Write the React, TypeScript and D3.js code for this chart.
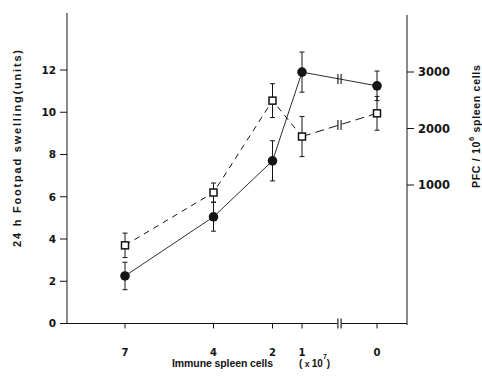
import * as d3 from 'd3';

// x categories: number of immune spleen cells (x10^7); axis is broken before 0
const cells = [7, 4, 2, 1, 0];
// filled circles, solid line
const swelling = [2.25, 5.05, 7.7, 11.9, 11.25];
const swellingErr = [0.65, 0.68, 0.95, 0.95, 0.7];
// open squares, dashed line (read in left-axis units)
const pfc = [3.7, 6.2, 10.55, 8.85, 9.95];
const pfcErr = [0.58, 0.45, 0.8, 0.95, 0.8];

const leftTicks = [0, 2, 4, 6, 8, 10, 12];
const rightTicks = [1000, 2000, 3000];

const W = 482;
const H = 384;
const ink = '#141414';
const numFont = '"DejaVu Sans", sans-serif';
const txtFont = '"Liberation Sans", Arial, sans-serif';

// piecewise scale so the 0 category sits past the axis break
const x = d3.scaleLinear().domain([7, 1, 0]).range([125, 302, 377]);
const y = d3.scaleLinear().domain([0, 12]).range([323.5, 70]);
const yR = d3.scaleLinear().domain([1000, 3000]).range([185, 72]);

const axisLeft = 67;
const axisRight = 407;
const axisBottom = y(0);
const breakAt = x(0.5);

type Pt = { c: number; v: number; e: number };

const toPts = (vals: number[], errs: number[]): Pt[] =>
  cells.map((c, i) => ({ c, v: vals[i], e: errs[i] }));

const line = d3.line<Pt>().x(d => x(d.c)).y(d => y(d.v));

// small "||" break mark on a segment
const BreakMark = ({ cx, cy }: { cx: number; cy: number }) => (
  <g stroke={ink} strokeWidth={1.1}>
    <line x1={cx - 1.6} x2={cx - 1.6} y1={cy - 5} y2={cy + 5} />
    <line x1={cx + 1.6} x2={cx + 1.6} y1={cy - 5} y2={cy + 5} />
  </g>
);

const ErrBars = ({ pts }: { pts: Pt[] }) => (
  <g stroke={ink} strokeWidth={1}>
    {pts.map(d => {
      const px = x(d.c);
      const top = y(d.v + d.e);
      const bot = y(d.v - d.e);
      return (
        <g key={d.c}>
          <line x1={px} x2={px} y1={top} y2={bot} />
          <line x1={px - 2.5} x2={px + 2.5} y1={top} y2={top} />
          <line x1={px - 2.5} x2={px + 2.5} y1={bot} y2={bot} />
        </g>
      );
    })}
  </g>
);

export default function App() {
  const filled = toPts(swelling, swellingErr);
  const open = toPts(pfc, pfcErr);

  // where each series crosses the axis break
  const midY = (s: Pt[]) => y((s[3].v + s[4].v) / 2);

  return (
    <svg width={W} height={H} style={{ position: 'absolute', left: 0, top: 0, background: '#fff' }}>
      {/* axes */}
      <g stroke={ink} strokeWidth={1} fill="none">
        <line x1={axisLeft} x2={axisLeft} y1={13} y2={axisBottom} />
        <line x1={axisRight} x2={axisRight} y1={15} y2={axisBottom + 1.5} />
        <line x1={axisLeft} x2={breakAt - 2} y1={axisBottom} y2={axisBottom} />
        <line x1={breakAt + 2} x2={axisRight} y1={axisBottom} y2={axisBottom} />
      </g>
      <BreakMark cx={breakAt} cy={axisBottom} />

      {/* left ticks */}
      {leftTicks.map(t => (
        <g key={t}>
          <line x1={axisLeft - 7} x2={axisLeft} y1={y(t)} y2={y(t)} stroke={ink} strokeWidth={1} />
          <text x={56} y={y(t)} dy="0.36em" textAnchor="end" fontFamily={numFont}
            fontWeight="bold" fontSize={10.5} fill={ink}>{t}</text>
        </g>
      ))}

      {/* right ticks */}
      {rightTicks.map(t => (
        <g key={t}>
          <line x1={axisRight} x2={axisRight + 7} y1={yR(t)} y2={yR(t)} stroke={ink} strokeWidth={1} />
          <text x={418} y={yR(t)} dy="0.38em" fontFamily={numFont}
            fontWeight="bold" fontSize={11.5} fill={ink}>{t}</text>
        </g>
      ))}

      {/* x ticks */}
      {cells.map(c => (
        <g key={c}>
          <line x1={x(c)} x2={x(c)} y1={axisBottom} y2={axisBottom + 5} stroke={ink} strokeWidth={1} />
          <text x={x(c)} y={355.5} textAnchor="middle" fontFamily={numFont}
            fontWeight="bold" fontSize={10} fill={ink}>{c}</text>
        </g>
      ))}

      {/* axis titles */}
      <text transform="translate(21,247) rotate(-90)" fontFamily={txtFont} fontWeight="bold"
        fontSize={11} fill={ink} textLength={197} lengthAdjust="spacing">
        24 h  Footpad  swelling(units)
      </text>
      <text transform="translate(480,188) rotate(-90)" fontFamily={txtFont} fontWeight="bold"
        fontSize={10.5} fill={ink} letterSpacing={0.7}>
        PFC / 10<tspan fontSize={7.5} dy={-6}>6</tspan>
        <tspan dy={6}> spleen  cells</tspan>
      </text>
      <text x={172} y={367} fontFamily={txtFont} fontWeight="bold" fontSize={10.5}
        fill={ink} textLength={101} lengthAdjust="spacing">Immune  spleen  cells</text>
      <text x={299} y={367} fontFamily={txtFont} fontWeight="bold" fontSize={10} fill={ink}>
        (<tspan fontSize={8.5}> x </tspan>10<tspan fontSize={7} dy={-8}>7</tspan>
        <tspan dy={8}>)</tspan>
      </text>

      {/* open squares, dashed */}
      <path d={line(open.slice(0, 4)) ?? ''} fill="none" stroke={ink} strokeWidth={1}
        strokeDasharray="6,5" />
      <path d={line(open.slice(3)) ?? ''} fill="none" stroke={ink} strokeWidth={1}
        strokeDasharray="9,5" />
      <BreakMark cx={breakAt} cy={midY(open)} />
      <ErrBars pts={open} />
      {open.map(d => (
        <rect key={d.c} x={x(d.c) - 3.5} y={y(d.v) - 3.5} width={7} height={7}
          fill="#fff" stroke={ink} strokeWidth={1.5} />
      ))}

      {/* filled circles, solid */}
      <path d={line(filled) ?? ''} fill="none" stroke={ink} strokeWidth={0.9} />
      <BreakMark cx={breakAt} cy={midY(filled)} />
      <ErrBars pts={filled} />
      {filled.map(d => (
        <circle key={d.c} cx={x(d.c)} cy={y(d.v)} r={4.8} fill={ink} />
      ))}
    </svg>
  );
}
